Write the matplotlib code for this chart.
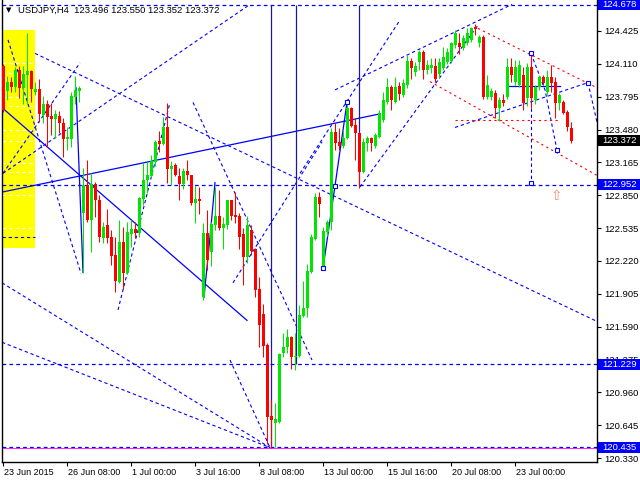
import matplotlib
matplotlib.use("Agg")
import matplotlib.pyplot as plt
import matplotlib.transforms as mtransforms
from matplotlib.patches import Rectangle
import numpy as np

# USDJPY H4 candles, one per bar index (0 = 23 Jun 2015)
opens = [124.09, 123.85, 123.94, 123.89, 124.05, 123.88, 124.00, 124.04, 123.84, 123.87,
         123.62, 123.72, 123.61, 123.58, 123.61, 123.54, 123.39, 123.39, 123.79, 123.85,
         122.68, 122.95, 122.61, 122.96, 122.80, 122.44, 122.56, 122.45, 122.28, 122.02,
         122.40, 122.10, 122.48, 122.53, 122.49, 122.81, 123.00, 123.03, 123.17, 123.37,
         123.34, 123.50, 123.10, 123.14, 123.03, 122.96, 123.08, 123.04, 122.78, 122.81,
         121.87, 122.49, 122.31, 122.56, 122.65, 122.54, 122.56, 122.80, 122.66, 122.65,
         122.48, 122.26, 122.52, 122.33, 121.95, 121.71, 121.41, 120.73, 120.67, 120.68,
         121.34, 121.39, 121.49, 121.30, 121.31, 121.69, 121.77, 122.11, 122.43, 122.83,
         122.15, 122.50, 122.59, 123.46, 123.36, 123.32, 123.40, 123.69, 123.52, 123.45,
         123.07, 123.35, 123.40, 123.32, 123.41, 123.57, 123.74, 123.89, 123.74, 123.90,
         123.81, 123.91, 124.14, 124.03, 124.13, 124.22, 124.05, 124.07, 124.09, 124.01,
         124.07, 124.13, 124.14, 124.29, 124.31, 124.26, 124.31, 124.34, 124.46, 124.31,
         124.37, 123.79, 123.79, 123.83, 123.69, 123.76, 123.79, 124.08, 123.94, 123.91,
         124.00, 123.78, 124.08, 123.76, 123.89, 123.98, 123.84, 123.98, 123.94, 123.73,
         123.74, 123.65, 123.496]
highs = [124.11, 123.99, 123.98, 124.08, 124.09, 124.09, 124.41, 124.05, 123.94, 123.96,
         123.80, 123.76, 123.73, 123.67, 123.66, 123.59, 123.50, 123.84, 123.99, 123.90,
         123.11, 123.19, 123.06, 122.98, 122.85, 122.59, 122.72, 122.52, 122.45, 122.61,
         122.55, 122.59, 122.61, 122.59, 122.83, 123.16, 123.17, 123.24, 123.38, 123.47,
         123.60, 123.73, 123.18, 123.16, 123.11, 123.11, 123.19, 123.04, 122.94, 122.93,
         122.58, 122.71, 122.59, 122.93, 122.90, 122.64, 122.80, 122.80, 122.88, 122.68,
         122.54, 122.65, 122.56, 122.34, 122.07, 121.81, 121.43, 120.89, 120.86, 121.34,
         121.53, 121.57, 121.50, 121.53, 121.80, 122.03, 122.19, 122.48, 122.87, 122.88,
         122.55, 122.61, 123.49, 123.54, 123.49, 123.48, 123.74, 123.70, 123.59, 123.46,
         123.40, 123.42, 123.41, 123.45, 123.67, 123.84, 123.97, 123.91, 123.98, 123.94,
         123.96, 124.19, 124.17, 124.13, 124.24, 124.24, 124.15, 124.17, 124.17, 124.17,
         124.27, 124.26, 124.32, 124.43, 124.41, 124.39, 124.45, 124.46, 124.49, 124.39,
         124.39, 124.00, 123.88, 123.86, 123.79, 123.82, 124.17, 124.17, 124.15, 124.15,
         124.08, 124.12, 124.21, 123.91, 124.00, 124.00, 124.05, 124.10, 123.98, 123.83,
         123.76, 123.67, 123.550]
lows = [123.65, 123.76, 123.84, 123.84, 123.78, 123.72, 123.72, 123.74, 123.81, 123.55,
        123.54, 123.31, 123.43, 123.40, 123.45, 123.22, 123.28, 123.31, 123.72, 123.74,
        122.10, 122.59, 122.31, 122.64, 122.40, 122.39, 122.39, 122.18, 121.92, 122.01,
        121.95, 122.09, 122.35, 122.44, 122.45, 122.76, 122.87, 123.02, 123.13, 123.26,
        123.33, 122.97, 122.95, 123.03, 122.80, 122.91, 123.00, 122.76, 122.58, 122.67,
        121.85, 122.13, 122.17, 122.52, 122.52, 122.33, 122.53, 122.61, 122.58, 122.33,
        121.99, 122.20, 122.28, 121.87, 121.39, 121.30, 120.46, 120.43, 120.44, 120.67,
        121.30, 121.34, 121.18, 121.17, 121.30, 121.68, 121.68, 122.10, 122.42, 122.64,
        122.14, 122.46, 122.52, 123.28, 123.28, 123.30, 123.39, 123.50, 123.19, 122.92,
        123.06, 123.27, 123.27, 123.30, 123.40, 123.55, 123.72, 123.67, 123.73, 123.76,
        123.79, 123.88, 123.96, 123.99, 124.05, 123.96, 124.01, 124.02, 123.94, 123.97,
        124.05, 124.11, 124.12, 124.26, 124.20, 124.24, 124.29, 124.32, 124.39, 124.27,
        123.77, 123.77, 123.76, 123.59, 123.56, 123.71, 123.77, 123.94, 123.91, 123.89,
        123.67, 123.71, 123.69, 123.72, 123.86, 123.91, 123.81, 123.84, 123.59, 123.67,
        123.63, 123.47, 123.352]
closes = [123.67, 123.94, 123.89, 124.05, 123.88, 124.01, 124.04, 123.87, 123.87, 123.63,
          123.72, 123.60, 123.58, 123.63, 123.54, 123.39, 123.41, 123.80, 123.86, 123.88,
          122.95, 122.61, 122.96, 122.80, 122.45, 122.55, 122.44, 122.27, 122.03, 122.40,
          122.10, 122.50, 122.53, 122.49, 122.82, 123.00, 123.04, 123.18, 123.36, 123.34,
          123.50, 123.10, 123.13, 123.04, 122.96, 123.08, 123.04, 122.78, 122.81, 122.79,
          122.49, 122.23, 122.57, 122.65, 122.54, 122.57, 122.80, 122.65, 122.64, 122.45,
          122.26, 122.56, 122.32, 121.94, 121.61, 121.40, 120.72, 120.69, 120.70, 121.33,
          121.39, 121.49, 121.30, 121.31, 121.70, 121.77, 122.12, 122.45, 122.83, 122.77,
          122.51, 122.59, 123.46, 123.35, 123.32, 123.40, 123.69, 123.51, 123.45, 123.07,
          123.36, 123.40, 123.35, 123.43, 123.64, 123.76, 123.89, 123.76, 123.89, 123.82,
          123.93, 124.14, 124.07, 124.09, 124.22, 124.05, 124.10, 124.10, 123.96, 124.13,
          124.18, 124.22, 124.31, 124.41, 124.27, 124.36, 124.41, 124.45, 124.44, 124.37,
          123.79, 123.91, 123.85, 123.69, 123.76, 123.73, 124.08, 124.00, 124.08, 124.10,
          123.73, 124.08, 123.78, 123.89, 123.98, 123.93, 123.98, 123.93, 123.73, 123.81,
          123.64, 123.50, 123.372]

time_tick_bars = [0, 16, 32, 48, 64, 80, 96, 112, 128]
time_tick_labels = ["23 Jun 2015", "26 Jun 08:00", "1 Jul 00:00", "3 Jul 16:00",
                    "8 Jul 08:00", "13 Jul 00:00", "15 Jul 16:00", "20 Jul 08:00",
                    "23 Jul 00:00"]
price_ticks = [124.425, 124.110, 123.795, 123.480, 123.165, 122.850, 122.535,
               122.220, 121.905, 121.590, 121.275, 120.960, 120.645, 120.330]

# horizontal levels drawn by the analyst, with the colour of their price tag
level_prices = [124.678, 122.952, 121.229, 120.435]
level_tag_colors = ["#0000ff", "#0000ff", "#0000ff", "#0000ff"]
last_price = 123.372

# analyst drawings, as (bar, price) points
blue_dashed = [
    [(8.0, 124.21), (148.5, 121.64)],
    [(-0.25, 122.01), (66.75, 120.43)],
    [(-0.25, 121.44), (66.75, 120.43)],
    [(0.0, 123.06), (19.25, 124.12)],
    [(0.0, 123.06), (61.75, 124.68)],
    [(1.25, 124.34), (19.5, 122.10)],
    [(28.75, 121.75), (41.75, 123.74)],
    [(47.5, 123.74), (77.25, 121.27)],
    [(57.5, 122.01), (79.75, 123.36)],
    [(56.75, 121.27), (66.75, 120.43)],
    [(83.0, 123.86), (127.25, 124.68)],
    [(74.25, 123.06), (99.25, 124.53)],
    [(89.25, 122.93), (118.75, 124.48)],
    [(113.0, 123.50), (146.25, 123.93)],
    [(132.0, 124.21), (132.0, 122.97)],
    [(132.0, 124.21), (135.5, 123.86), (138.5, 123.28)],
    [(146.25, 123.93), (148.5, 123.55)],
    [(-0.25, 122.45), (8.0, 122.45)],
]
red_dashed = [
    [(118.75, 124.45), (148.5, 123.88)],
    [(106.75, 123.94), (148.5, 123.04)],
    [(113.0, 123.57), (139.25, 123.57)],
]
blue_solid = [
    [(-0.25, 123.69), (61.0, 121.65)],
    [(-0.25, 122.88), (94.25, 123.63)],
    [(18.25, 123.88), (20.0, 122.11)],
    [(80.0, 122.15), (83.0, 122.94), (86.0, 123.74)],
    [(126.25, 123.90), (139.25, 123.90)],
    [(50.25, 121.87), (51.75, 122.45), (53.0, 122.97)],
]
vertical_bars = [67.0, 73.25, 89.0]
vertical_ends = [120.435, 121.229, 122.952]
anchor_boxes = [(80.0, 122.15), (83.0, 122.94), (86.0, 123.74), (132.0, 124.21),
                (132.0, 122.97), (138.5, 123.28), (146.25, 123.93)]
yellow_box = (-0.25, 8.0, 122.34, 124.43)
yellow_grid = [124.12, 124.02, 123.79, 123.71, 123.48, 123.37, 123.16, 123.07,
               122.85, 122.54]
arrow_point = (138.25, 122.84)

BULL = "#00e600"
BEAR = "#ff0000"
BLUE = "#0000ff"

fig = plt.figure(figsize=(6.4, 4.8), dpi=100)
ax = fig.add_axes([2 / 640, 18 / 480, 595 / 640, 462 / 480])
ax.set_xlim(-0.25, 148.5)
ax.set_ylim(120.292, 124.722)

# yellow zone with white grid dashes
x0, x1, y0, y1 = yellow_box
ax.add_patch(Rectangle((x0, y0), x1 - x0, y1 - y0, color="#ffff00", lw=0, zorder=0))
ax.hlines(yellow_grid, x0, x1, colors="white", lw=0.8, linestyles=(0, (3, 3)), zorder=0.5)

dash = (0, (3, 2.5))
for pts in blue_dashed:
    xs, ys = zip(*pts)
    ax.plot(xs, ys, color=BLUE, lw=0.8, ls=dash, zorder=1)
for pts in red_dashed:
    xs, ys = zip(*pts)
    ax.plot(xs, ys, color=BEAR, lw=0.8, ls=(0, (2, 3)), zorder=1)
for pts in blue_solid:
    xs, ys = zip(*pts)
    ax.plot(xs, ys, color=BLUE, lw=0.9, zorder=1)
ax.vlines(vertical_bars, vertical_ends, level_prices[0], colors="#1a1a9a", lw=0.9, zorder=1)
for p in level_prices:
    ax.axhline(p, color=BLUE, lw=0.9, ls=dash, zorder=1)
ax.axhline(level_prices[-1] - 0.01, color="#ff00ff", lw=0.6, zorder=1)

bx, by = zip(*anchor_boxes)
ax.plot(bx, by, ls="none", marker="s", ms=3.5, mfc="white", mec=BLUE, mew=0.8, zorder=4)

# candles
idx = np.arange(len(opens))
o = np.array(opens)
c = np.array(closes)
colors = [BULL if cc > oo else BEAR for oo, cc in zip(o, c)]
ax.vlines(idx, lows, highs, colors=colors, lw=0.75, zorder=2)
body = np.maximum(np.abs(c - o), 0.012)
ax.bar(idx, body, bottom=np.minimum(o, c), width=0.75, color=colors, lw=0, zorder=3)

ax.text(arrow_point[0], arrow_point[1], "\u21e7", color="#f09070", fontsize=10,
        ha="center", va="center", zorder=5)

# axes look
ax.spines["top"].set_visible(False)
for side in ["left", "right", "bottom"]:
    ax.spines[side].set_linewidth(1.0)
ax.yaxis.tick_right()
ax.set_yticks(price_ticks)
ax.set_yticklabels([f"{p:.3f}" for p in price_ticks])
ax.tick_params(axis="y", direction="out", length=3, width=0.8, pad=2,
               labelsize=6.8, labelfontfamily="Liberation Sans")
ax.set_xticks(time_tick_bars)
ax.set_xticklabels(time_tick_labels)
ax.tick_params(axis="x", direction="out", length=3, width=0.8, pad=1.5,
               labelsize=6.5, labelfontfamily="Liberation Sans")
shift = mtransforms.ScaledTranslation(1 / 100, 0, fig.dpi_scale_trans)
for lbl in ax.get_xticklabels():
    lbl.set_ha("left")
    lbl.set_transform(lbl.get_transform() + shift)

# price tags on the right scale
tag = mtransforms.blended_transform_factory(fig.transFigure, ax.transData)
tag_h = 11 / 104.3
for p, col in zip(level_prices + [last_price], level_tag_colors + ["#000000"]):
    ax.add_patch(Rectangle((598 / 640, p - tag_h / 2), 42 / 640, tag_h, transform=tag,
                           color=col, lw=0, clip_on=False, zorder=10))
    ax.text(602 / 640, p, f"{p:.3f}", transform=tag, color="white", fontsize=6.8,
            family="Liberation Sans", va="center", ha="left", clip_on=False, zorder=11)

fig.text(9 / 640, 1 - 10 / 480, "\u25bc", fontsize=5, va="center", ha="center")
fig.text(18 / 640, 1 - 10 / 480,
         "USDJPY,H4  123.496 123.550 123.352 123.372",
         fontsize=6.8, family="Liberation Sans", va="center", ha="left")

fig.savefig("out.png", dpi=100)
